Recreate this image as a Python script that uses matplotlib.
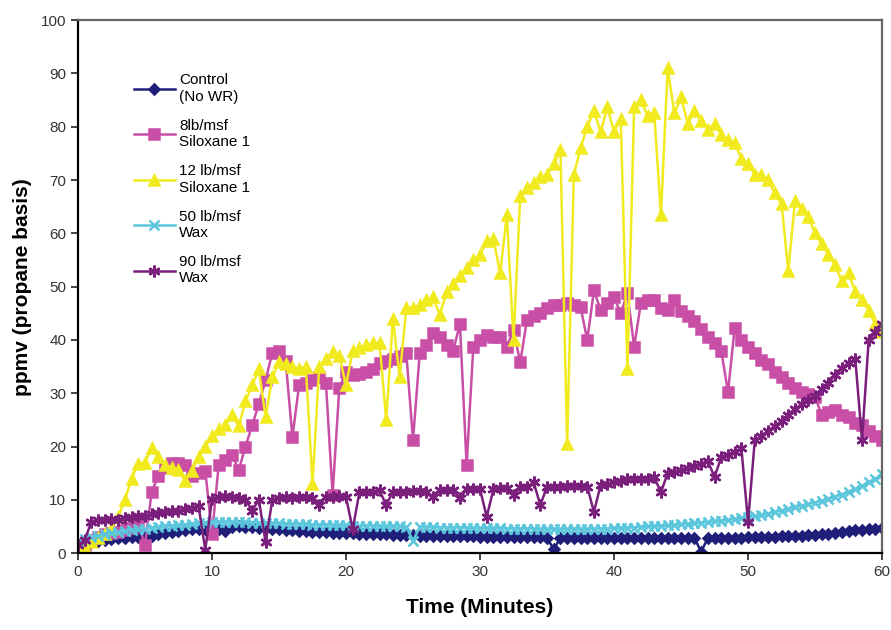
import numpy as np
import matplotlib
matplotlib.use("Agg")
import matplotlib.pyplot as plt

# -----------------------------
# Data (ppmv, every 0.5 min)
# -----------------------------
TIME_MIN = np.arange(0, 60.01, 0.5)

CONTROL = [
    1.0, 1.5, 2.0, 2.3, 2.5, 2.6, 2.8, 2.9, 3.0, 3.1,
    3.2, 3.3, 3.5, 3.7, 3.9, 4.2, 4.4, 4.5, 4.5, 4.6,
    4.7, 4.6, 4.2, 4.9, 5.0, 4.9, 4.9, 4.8, 4.7, 4.6,
    4.5, 4.4, 4.3, 4.2, 4.1, 4.0, 3.9, 3.9, 3.8, 3.8,
    3.7, 3.7, 3.6, 3.6, 3.5, 3.5, 3.5, 3.4, 3.4, 3.4,
    3.4, 3.3, 3.3, 3.3, 3.3, 3.2, 3.2, 3.2, 3.2, 3.2,
    3.1, 3.1, 3.1, 3.1, 3.0, 3.0, 3.0, 3.0, 3.0, 3.0,
    2.9, 0.7, 2.9, 2.9, 2.9, 2.8, 2.8, 2.8, 2.8, 2.8,
    2.8, 2.8, 2.8, 2.8, 2.8, 2.8, 2.8, 2.8, 2.8, 2.8,
    2.8, 2.8, 2.8, 0.3, 2.8, 2.8, 2.9, 2.9, 2.9, 2.9,
    3.0, 3.0, 3.0, 3.1, 3.1, 3.2, 3.2, 3.3, 3.3, 3.4,
    3.4, 3.5, 3.6, 3.7, 3.9, 4.1, 4.3, 4.4, 4.5, 4.6,
    4.8,
]

SILOXANE_8 = [
    1.0, 1.5, 2.5, 3.0, 3.5, 3.8, 4.0, 4.3, 4.8, 5.5,
    1.5, 11.5, 14.5, 16.0, 17.0, 17.0, 16.5, 14.5, 15.0, 15.5,
    3.5, 16.5, 17.5, 18.5, 15.6, 20.0, 24.0, 28.0, 32.5, 37.5,
    38.0, 36.0, 21.8, 31.5, 32.0, 32.4, 33.0, 32.0, 11.0, 31.0,
    34.0, 33.5, 33.7, 34.0, 34.5, 35.6, 36.0, 36.5, 37.0, 37.5,
    21.2, 37.5, 39.0, 41.3, 40.5, 39.0, 38.0, 43.0, 16.5, 38.7,
    40.0, 41.0, 40.5, 40.5, 38.7, 41.8, 35.8, 43.7, 44.5, 45.0,
    46.0, 46.5, 46.5, 47.0, 46.5, 46.2, 40.0, 49.3, 45.6, 47.0,
    48.0, 45.0, 48.8, 38.7, 46.9, 47.5, 47.5, 46.0, 45.6, 47.5,
    45.5, 44.5, 43.5, 42.0, 40.5, 39.5, 38.0, 30.2, 42.2, 40.0,
    38.7, 37.5, 36.3, 35.5, 34.0, 33.0, 32.0, 31.0, 30.3, 29.8,
    29.3, 25.9, 26.5, 26.8, 26.0, 25.5, 24.5, 24.0, 23.0, 22.0,
    21.2,
]

SILOXANE_12 = [
    0.5, 1.0, 2.0, 2.8, 3.5, 4.5, 6.8, 10.0, 14.0, 16.8,
    17.0, 19.8, 18.0, 16.5, 16.0, 15.6, 13.5, 15.5, 18.0, 20.0,
    22.0, 23.3, 24.0, 26.0, 23.8, 28.5, 31.5, 34.5, 25.5, 33.0,
    35.8, 35.5, 35.0, 34.5, 35.0, 13.0, 35.0, 36.5, 37.7, 37.0,
    31.5, 38.0, 38.5, 39.0, 39.4, 39.5, 25.0, 44.0, 33.0, 46.0,
    46.0, 46.5, 47.5, 48.0, 44.7, 49.0, 50.5, 52.0, 53.5, 55.0,
    56.0, 58.5, 59.0, 52.5, 63.5, 40.0, 67.0, 68.5, 69.5, 70.5,
    71.0, 73.0, 75.6, 20.5, 71.0, 76.0, 80.0, 83.0, 79.0, 83.7,
    79.0, 81.5, 34.5, 83.7, 85.0, 82.0, 82.5, 63.4, 91.0, 82.5,
    85.5, 80.6, 83.0, 81.0, 79.4, 80.6, 78.5, 77.5, 77.0, 74.0,
    73.0, 71.0, 71.0, 70.0, 67.5, 65.5, 53.0, 66.0, 64.5, 63.0,
    60.0, 58.0, 56.0, 54.0, 51.0, 52.5, 49.0, 47.5, 45.5, 43.0,
    41.5,
]

WAX_50 = [
    2.2, 2.6, 3.0, 3.3, 3.6, 3.8, 4.0, 4.2, 4.4, 4.5,
    4.6, 4.8, 4.9, 5.0, 5.1, 5.2, 5.3, 5.5, 5.6, 5.7,
    5.8, 5.8, 5.9, 5.8, 5.8, 5.8, 5.7, 5.7, 5.7, 5.6,
    5.6, 5.5, 5.5, 5.4, 5.4, 5.3, 5.3, 5.3, 5.2, 5.2,
    5.2, 5.1, 5.1, 5.1, 5.1, 5.0, 5.0, 5.0, 5.0, 4.9,
    2.3, 4.9, 4.9, 4.9, 4.8, 4.8, 4.8, 4.8, 4.8, 4.7,
    4.7, 4.7, 4.7, 4.7, 4.6, 4.6, 4.6, 4.6, 4.6, 4.5,
    4.5, 4.5, 4.5, 4.5, 4.5, 4.5, 4.5, 4.6, 4.6, 4.6,
    4.7, 4.7, 4.8, 4.8, 4.9, 5.0, 5.0, 5.1, 5.2, 5.3,
    5.4, 5.5, 5.6, 5.7, 5.8, 6.0, 6.1, 6.2, 6.4, 6.5,
    6.7, 6.9, 7.1, 7.4, 7.7, 8.0, 8.3, 8.6, 8.9, 9.2,
    9.5, 9.8, 10.2, 10.6, 11.0, 11.5, 12.0, 12.6, 13.3, 14.0,
    14.8,
]

WAX_90 = [
    1.5, 2.5, 5.8, 6.3, 6.3, 6.4, 6.3, 6.5, 6.7, 7.0,
    7.0, 7.3, 7.5, 7.8, 7.9, 8.0, 8.3, 8.5, 8.8, 0.6,
    10.2, 10.5, 10.8, 10.5, 10.3, 10.0, 8.0, 10.0, 2.0, 10.0,
    10.3, 10.5, 10.4, 10.5, 10.6, 10.3, 9.0, 10.6, 10.5, 10.8,
    10.5, 4.5, 11.4, 11.5, 11.5, 11.8, 9.0, 11.5, 11.4, 11.5,
    11.7, 11.6, 11.5, 10.5, 11.8, 11.8, 11.9, 10.3, 12.0, 12.0,
    12.0, 6.8, 12.0, 12.2, 12.2, 10.9, 12.4, 12.4, 13.3, 9.0,
    12.5, 12.5, 12.4, 12.6, 12.6, 12.6, 12.5, 7.7, 12.8, 13.0,
    13.3, 13.6, 14.0, 14.0, 14.0, 14.0, 14.2, 11.4, 15.0, 15.3,
    15.6, 16.0, 16.4, 16.8, 17.2, 14.3, 18.0, 18.5, 19.0, 19.7,
    5.8, 21.2, 22.0, 23.0, 23.8, 24.8, 26.0, 27.0, 28.0, 28.8,
    29.5, 30.8, 32.0, 33.5, 34.7, 35.7, 36.5, 21.2, 40.0, 41.5,
    43.0,
]

SERIES = [
    ("Control\n(No WR)", CONTROL, "#1f1f7a", "D", 5),
    ("8lb/msf\nSiloxane 1", SILOXANE_8, "#c84ea6", "s", 6.5),
    ("12 lb/msf\nSiloxane 1", SILOXANE_12, "#f0ea1e", "^", 7),
    ("50 lb/msf\nWax", WAX_50, "#5bc6dc", "x", 6.5),
    ("90 lb/msf\nWax", WAX_90, "#7a1f7c", (6, 2, 0), 8.5),
]

# -----------------------------
# Plot
# -----------------------------
plt.rcParams["font.family"] = ["Liberation Sans", "DejaVu Sans"]

fig = plt.figure(figsize=(8.91, 6.30), dpi=100)
ax = fig.add_axes([0.0875, 0.122, 0.9025, 0.846])

for label, values, color, marker, msize in SERIES:
    ax.plot(TIME_MIN, values, color=color, marker=marker, markersize=msize,
            markeredgewidth=1.8, linewidth=1.8, label=label)

ax.set_xlim(0, 60)
ax.set_ylim(0, 100)
ax.set_xticks(range(0, 61, 10))
ax.set_yticks(range(0, 101, 10))
ax.tick_params(direction="out", length=5, width=1.2, labelsize=11,
               labelcolor="#333333", color="#222222")

for side in ["left", "bottom"]:
    ax.spines[side].set_linewidth(1.6)
    ax.spines[side].set_color("black")
for side in ["top", "right"]:
    ax.spines[side].set_linewidth(1.6)
    ax.spines[side].set_color("#666666")

ax.set_xlabel("Time (Minutes)", fontsize=15, fontweight="bold", labelpad=14)
ax.set_ylabel("ppmv (propane basis)", fontsize=15, fontweight="bold", labelpad=6)

ax.legend(loc="upper left", bbox_to_anchor=(0.052, 0.926), frameon=False,
          fontsize=11, handlelength=2.7, labelspacing=1.0, handletextpad=0.3)

fig.savefig("out.png", dpi=100)
